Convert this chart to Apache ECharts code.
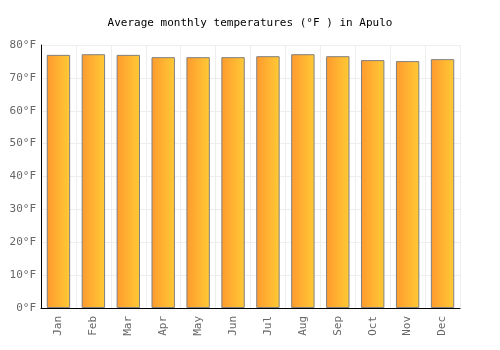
<!DOCTYPE html>
<html><head><meta charset="utf-8">
<script src="https://cdn.jsdelivr.net/npm/echarts@6/dist/echarts.min.js"></script>
<style>html,body{margin:0;padding:0;background:#fff}#c{width:500px;height:350px}</style>
</head><body><div id="c"></div>
<script>
var months = ["Jan","Feb","Mar","Apr","May","Jun","Jul","Aug","Sep","Oct","Nov","Dec"];
var tempsF = [77.0, 77.2, 77.0, 76.3, 76.3, 76.3, 76.6, 77.2, 76.6, 75.4, 75.1, 75.7];
var titleText = "Average monthly temperatures (°F ) in Apulo";
var font = "DejaVu Sans Mono, monospace";
var chart = echarts.init(document.getElementById('c'), null, {renderer:'canvas'});
chart.setOption({
  animation:false,
  title:{text:titleText,left:'center',top:13,textStyle:{fontFamily:font,fontSize:11,fontWeight:'normal',color:'#000'}},
  grid:{left:41,right:40,top:45,bottom:42},
  xAxis:{type:'category',data:months,
    axisLine:{lineStyle:{color:'#000'}},axisTick:{show:false},
    axisLabel:{rotate:90,fontFamily:font,fontSize:11,color:'#666',margin:8},
    splitLine:{show:true,lineStyle:{color:'#eee'}}},
  yAxis:{type:'value',min:0,max:80,interval:10,
    axisLine:{show:true,lineStyle:{color:'#000'}},axisTick:{show:false},
    axisLabel:{formatter:'{value}°F',fontFamily:font,fontSize:11,color:'#666',margin:5},
    splitLine:{lineStyle:{color:'#eee'}}},
  series:[{type:'bar',data:tempsF,barWidth:'67%',
    itemStyle:{borderColor:'#808080',borderWidth:1,
      color:new echarts.graphic.LinearGradient(0,0,1,0,[{offset:0,color:'#ff9a2e'},{offset:1,color:'#ffca35'}])}}]
});
</script></body></html>
